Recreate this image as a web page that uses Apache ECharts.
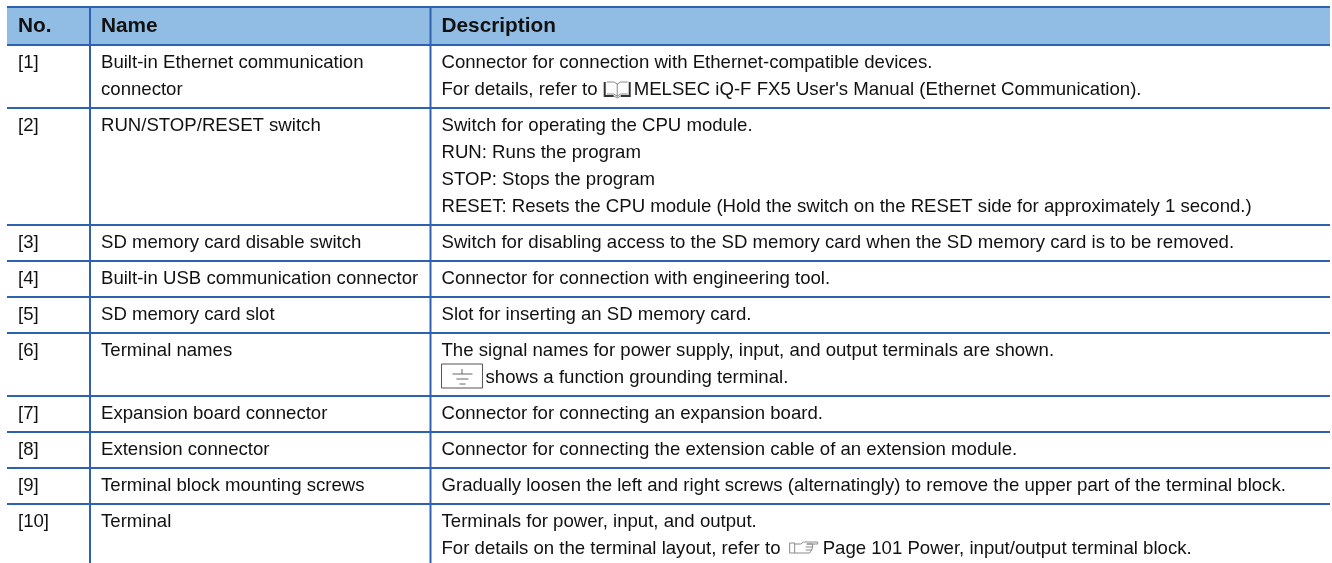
<!DOCTYPE html>
<html><head><meta charset="utf-8">
<style>html,body{margin:0;padding:0;background:#fff}#c{width:1332px;height:563px}</style>
<script src="https://cdn.jsdelivr.net/npm/echarts@6/dist/echarts.min.js"></script>
</head><body><div id="c"></div>
<script>
// ---- table content ----
const headers = ['No.', 'Name', 'Description'];
const rowNumbers = ['[1]','[2]','[3]','[4]','[5]','[6]','[7]','[8]','[9]','[10]'];
const rowNames = [
  'Built-in Ethernet communication\nconnector',
  'RUN/STOP/RESET switch',
  'SD memory card disable switch',
  'Built-in USB communication connector',
  'SD memory card slot',
  'Terminal names',
  'Expansion board connector',
  'Extension connector',
  'Terminal block mounting screws',
  'Terminal'
];
const rowDescriptions = [
  "Connector for connection with Ethernet-compatible devices.\nFor details, refer to @bookMELSEC iQ-F FX5 User's Manual (Ethernet Communication).",
  "Switch for operating the CPU module.\nRUN: Runs the program\nSTOP: Stops the program\nRESET: Resets the CPU module (Hold the switch on the RESET side for approximately 1 second.)",
  "Switch for disabling access to the SD memory card when the SD memory card is to be removed.",
  "Connector for connection with engineering tool.",
  "Slot for inserting an SD memory card.",
  "The signal names for power supply, input, and output terminals are shown.\n@groundshows a function grounding terminal.",
  "Connector for connecting an expansion board.",
  "Connector for connecting the extension cable of an extension module.",
  "Gradually loosen the left and right screws (alternatingly) to remove the upper part of the terminal block.",
  "Terminals for power, input, and output.\nFor details on the terminal layout, refer to @handPage 101 Power, input/output terminal block."
];

// ---- layout and style ----
const W = 1332, H = 563;
const FONT = '"Liberation Sans", Arial, sans-serif';
const BODY_SIZE = 18.6, HEAD_SIZE = 20.8, LINE_H = 27;
const TABLE_L = 7, TABLE_R = 1330, TABLE_T = 7, HEAD_B = 45;
const COL_X = [18, 101, 441.5];
const VLINES = [90, 430.5];
const ROW_PAD = 36 - LINE_H;
const BORDER = '#2e62b0', HEAD_BG = '#91bce3', TEXT = '#111111', ICON_DARK = '#333333', ICON = '#8a8a8a';
const ICON_W = {book: 31, ground: 44, hand: 34};
const ICON_LEAD = {book: 0, ground: 0, hand: 3};

const mctx = document.createElement('canvas').getContext('2d');
mctx.font = BODY_SIZE + 'px ' + FONT;

const chart = echarts.init(document.getElementById('c'), null, {renderer: 'canvas'});

function rowLineCount(i){ return Math.max(rowNames[i].split('\n').length, rowDescriptions[i].split('\n').length); }
const rowTops = [];
(function(){ let y = HEAD_B; for (let i = 0; i < rowNumbers.length; i++){ rowTops.push(y); y += rowLineCount(i) * LINE_H + ROW_PAD; } rowTops.push(y); })();

function rect(api, x0, y0, x1, y1, fill){
  const a = api.coord([x0, y0]), b = api.coord([x1, y1]);
  return {type:'rect', shape:{x:a[0], y:a[1], width:b[0]-a[0], height:b[1]-a[1]}, style:{fill}};
}
function label(api, x, y, text, size, weight){
  const p = api.coord([x, y]);
  return {type:'text', x:p[0], y:p[1], style:{text, fill:TEXT, font:(weight||'normal')+' '+size+'px '+FONT, textAlign:'left', textVerticalAlign:'middle'}};
}
function poly(api, pts, w, col){
  return {type:'polyline', shape:{points:pts.map(q=>api.coord(q))}, style:{fill:'none', stroke:col||ICON, lineWidth:w||1}};
}
function icon(api, kind, x, y){
  if (kind === 'book') return [
    poly(api, [[x+2,y-8],[x+2,y+6],[x+11,y+6]], 2, ICON_DARK),
    poly(api, [[x+27,y-8],[x+27,y+6],[x+18,y+6]], 2, ICON_DARK),
    poly(api, [[x+11,y+6],[x+14.5,y+8],[x+18,y+6]], 1, ICON),
    poly(api, [[x+4,y-8],[x+11,y-8],[x+14.5,y-6],[x+18,y-8],[x+25,y-8]], 1, ICON),
    poly(api, [[x+14.5,y-6],[x+14.5,y+7]], 1, ICON),
    poly(api, [[x+4,y+4],[x+11,y+4],[x+14.5,y+6],[x+18,y+4],[x+25,y+4]], 1, ICON)
  ];
  if (kind === 'ground') return [
    poly(api, [[x,y-14],[x+41,y-14],[x+41,y+10],[x,y+10],[x,y-14]], 1, '#555555'),
    poly(api, [[x+20.5,y-9],[x+20.5,y-4]], 1, '#666666'),
    poly(api, [[x+11,y-4],[x+31,y-4]], 1, '#666666'),
    poly(api, [[x+15,y+1],[x+27,y+1]], 1, '#666666'),
    poly(api, [[x+18,y+6],[x+24,y+6]], 1, '#666666')
  ];
  return [
    poly(api, [[x+1,y-6],[x+6,y-6],[x+6,y+4],[x+1,y+4],[x+1,y-6]], 1),
    poly(api, [[x+6,y-5],[x+12,y-5],[x+15,y-7],[x+29,y-7],[x+29,y-5],[x+18,y-5]], 1),
    poly(api, [[x+18,y-5],[x+24,y-5],[x+24,y-2],[x+17,y-2]], 1),
    poly(api, [[x+24,y-2],[x+23,y+1],[x+17,y+1]], 1),
    poly(api, [[x+23,y+1],[x+21,y+4],[x+6,y+4]], 1)
  ];
}
function describe(api, x, y, line){
  const out = [];
  const m = line.match(/^(.*?)@(book|ground|hand)(.*)$/);
  if (!m){ out.push(label(api, x, y, line, BODY_SIZE)); return out; }
  let cx = x;
  if (m[1]){ out.push(label(api, cx, y, m[1], BODY_SIZE)); cx += mctx.measureText(m[1]).width; }
  cx += ICON_LEAD[m[2]];
  icon(api, m[2], cx, y).forEach(s => out.push(s));
  cx += ICON_W[m[2]];
  out.push(label(api, cx, y, m[3], BODY_SIZE));
  return out;
}

function renderFrame(params, api){
  const c = [];
  c.push(rect(api, TABLE_L, TABLE_T, TABLE_R, HEAD_B, HEAD_BG));
  const hl = y => rect(api, TABLE_L, y-1, TABLE_R, y+1, BORDER);
  c.push(hl(TABLE_T), hl(HEAD_B));
  rowTops.slice(1, -1).forEach(y => c.push(hl(y)));
  VLINES.forEach(x => c.push(rect(api, x-1, TABLE_T, x+1, H, BORDER)));
  headers.forEach((h, i) => c.push(label(api, COL_X[i], (TABLE_T + HEAD_B)/2 + 0.5, h, HEAD_SIZE, 'bold')));
  return {type:'group', children:c};
}
function renderRow(params, api){
  const i = params.dataIndex, c = [];
  const first = rowTops[i] + 18;
  c.push(label(api, COL_X[0], first, rowNumbers[i], BODY_SIZE));
  rowNames[i].split('\n').forEach((l, k) => c.push(label(api, COL_X[1], first + k*LINE_H, l, BODY_SIZE)));
  rowDescriptions[i].split('\n').forEach((l, k) => describe(api, COL_X[2], first + k*LINE_H, l).forEach(s => c.push(s)));
  return {type:'group', children:c};
}

chart.setOption({
  animation:false,
  backgroundColor:'#fff',
  grid:{left:0,right:0,top:0,bottom:0},
  xAxis:{type:'value',min:0,max:W,show:false},
  yAxis:{type:'value',min:0,max:H,inverse:true,show:false},
  series:[
    {type:'custom',coordinateSystem:'cartesian2d',silent:true,clip:false,data:[[0,0]],renderItem:renderFrame},
    {type:'custom',coordinateSystem:'cartesian2d',silent:true,clip:false,data:rowNumbers.map((n,i)=>[0,i]),renderItem:renderRow}
  ]
});
</script></body></html>
